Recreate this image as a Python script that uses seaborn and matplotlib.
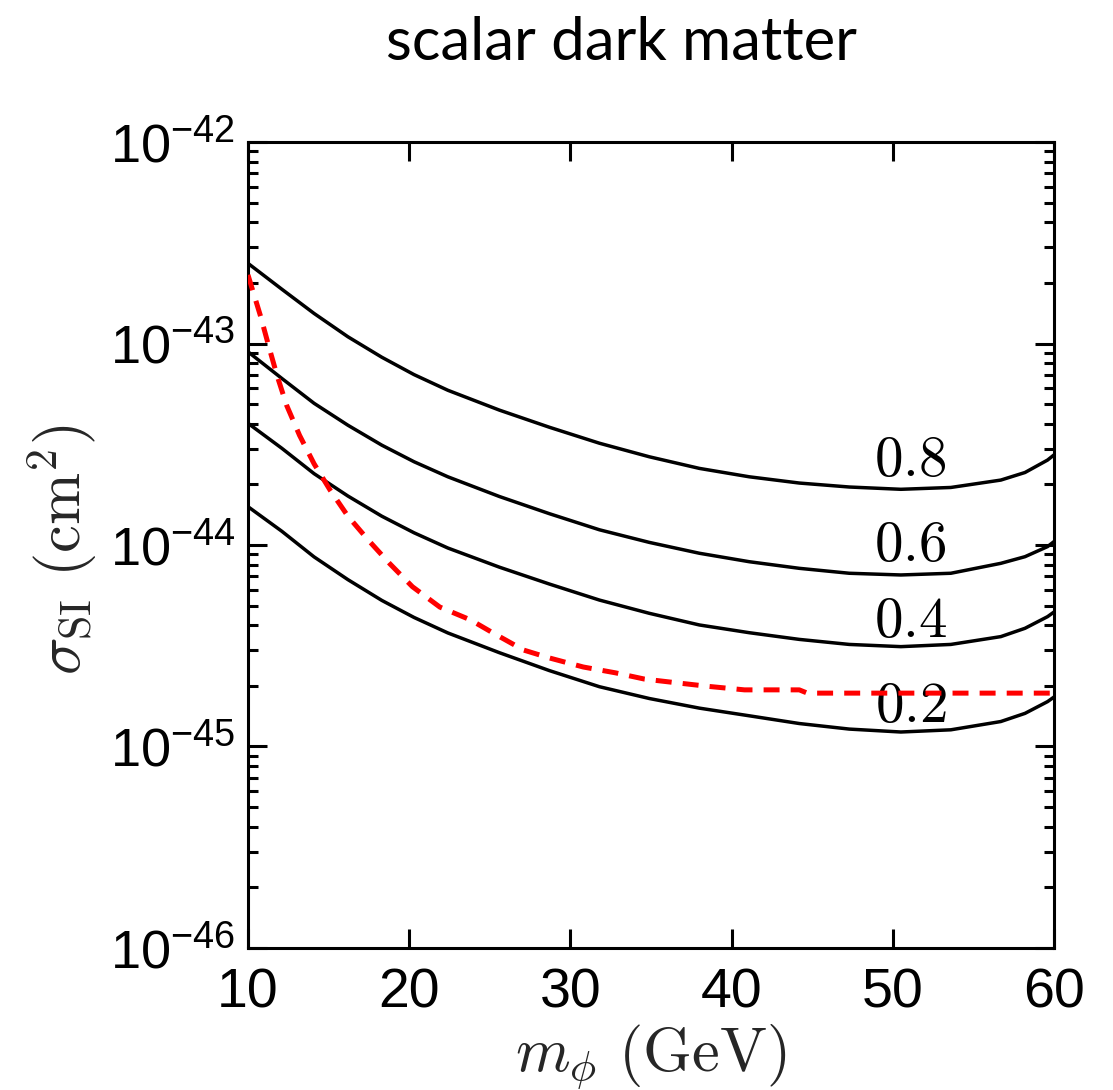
import numpy as np
import pandas as pd
import matplotlib
matplotlib.use("Agg")
import matplotlib.pyplot as plt
import seaborn as sns
from matplotlib.ticker import NullFormatter, NullLocator, FuncFormatter, FixedLocator

# Dark matter mass grid (GeV) for the contour curves
mass = [10.0, 12.1, 14.1, 16.2, 18.3, 20.3, 22.4, 25.6, 28.7, 31.8, 34.9,
        38.0, 41.1, 44.2, 47.3, 50.5, 53.6, 56.7, 58.2, 59.6, 60.0]

# Spin-independent cross sections (cm^2) along each contour
sigma_08 = [2.50e-43, 1.86e-43, 1.41e-43, 1.08e-43, 8.55e-44, 7.01e-44, 5.86e-44,
            4.67e-44, 3.84e-44, 3.20e-44, 2.74e-44, 2.40e-44, 2.18e-44, 2.03e-44,
            1.94e-44, 1.89e-44, 1.93e-44, 2.10e-44, 2.29e-44, 2.64e-44, 2.80e-44]
sigma_06 = [9.10e-44, 6.71e-44, 5.05e-44, 3.93e-44, 3.13e-44, 2.59e-44, 2.18e-44,
            1.74e-44, 1.43e-44, 1.19e-44, 1.03e-44, 9.10e-45, 8.26e-45, 7.66e-45,
            7.24e-45, 7.10e-45, 7.24e-45, 8.11e-45, 8.75e-45, 9.82e-45, 1.04e-44]
sigma_04 = [4.02e-44, 3.02e-44, 2.26e-44, 1.75e-44, 1.39e-44, 1.15e-44, 9.66e-45,
            7.76e-45, 6.40e-45, 5.33e-45, 4.58e-45, 4.01e-45, 3.67e-45, 3.40e-45,
            3.21e-45, 3.13e-45, 3.21e-45, 3.51e-45, 3.86e-45, 4.41e-45, 4.65e-45]
sigma_02 = [1.55e-44, 1.17e-44, 8.73e-45, 6.73e-45, 5.31e-45, 4.37e-45, 3.66e-45,
            2.92e-45, 2.38e-45, 1.98e-45, 1.73e-45, 1.55e-45, 1.42e-45, 1.30e-45,
            1.22e-45, 1.18e-45, 1.21e-45, 1.33e-45, 1.46e-45, 1.67e-45, 1.76e-45]
levels = ["0.8", "0.6", "0.4", "0.2"]

# Experimental exclusion limit (red dashed)
limit_mass = [10.0, 10.8, 11.3, 11.8, 12.4, 13.2, 14.1, 15.1, 16.2, 17.5, 18.8, 20.2, 21.9,
              23.8, 25.2, 27.1, 28.7, 30.8, 32.8, 34.6, 36.6, 38.5, 40.8, 44.2, 44.7, 60.0]
limit_sigma = [2.19e-43, 1.35e-43, 9.62e-44, 6.95e-44, 4.93e-44, 3.50e-44, 2.53e-44, 1.87e-44,
               1.39e-44, 1.05e-44, 8.07e-45, 6.21e-45, 4.92e-45, 4.25e-45, 3.66e-45, 3.01e-45,
               2.75e-45, 2.48e-45, 2.32e-45, 2.16e-45, 2.07e-45, 1.99e-45, 1.91e-45, 1.91e-45,
               1.84e-45, 1.84e-45]

# Contour label placement
label_mass = 51.1
label_sigma = [2.61e-44, 9.89e-45, 4.15e-45, 1.57e-45]

y_major = [1e-46, 1e-45, 1e-44, 1e-43, 1e-42]
x_major = [10, 20, 30, 40, 50, 60]

sns.set_theme(style="ticks")
plt.rcParams["font.family"] = ["Liberation Sans", "DejaVu Sans"]
plt.rcParams["mathtext.fontset"] = "cm"
plt.rcParams["lines.scale_dashes"] = False
plt.rcParams["axes.linewidth"] = 2.2
plt.rcParams["axes.edgecolor"] = "black"

contours = pd.DataFrame({
    "mass": mass * 4,
    "sigma": sigma_08 + sigma_06 + sigma_04 + sigma_02,
    "level": sum([[lv] * len(mass) for lv in levels], []),
})

fig = plt.figure(figsize=(11.13, 10.9), dpi=100)
ax = fig.add_axes([0.2228, 0.1303, 0.7242, 0.7394])

sns.lineplot(data=contours, x="mass", y="sigma", hue="level",
             palette={lv: "black" for lv in levels}, estimator=None,
             linewidth=2.5, legend=False, ax=ax)
for ln in ax.lines:
    ln.set_solid_joinstyle("round")
sns.lineplot(x=limit_mass, y=limit_sigma, color="red", linewidth=3.6,
             estimator=None, ax=ax)
ax.lines[-1].set_dashes([11.5, 8.0])
ax.lines[-1].set_zorder(4)

for lv, s in zip(levels, label_sigma):
    ax.text(label_mass, s, "$%s$" % lv, fontsize=41, ha="center", va="center",
            color="black", zorder=3)

ax.set_yscale("log")
ax.set_xlim(10, 60)
ax.set_ylim(1e-46, 1e-42)
ax.xaxis.set_major_locator(FixedLocator(x_major))
ax.xaxis.set_minor_locator(NullLocator())
ax.yaxis.set_major_locator(FixedLocator(y_major))
minor = [m * d for d in [1e-46, 1e-45, 1e-44, 1e-43] for m in range(2, 10)]
ax.yaxis.set_minor_locator(FixedLocator(minor))
ax.yaxis.set_minor_formatter(NullFormatter())
ax.yaxis.set_major_formatter(FuncFormatter(
    lambda v, p: r"$\mathregular{10^{%d}}$" % int(round(np.log10(v)))))

ax.tick_params(which="both", direction="in", top=True, right=True, width=2.2,
               color="black", labelcolor="black")
ax.tick_params(which="major", length=14, labelsize=40)
ax.tick_params(axis="y", which="major", labelsize=39, pad=9)
ax.tick_params(axis="x", which="major", pad=14)
ax.tick_params(which="minor", length=7)

ax.set_xlabel(r"$m_\phi\ (\mathrm{GeV})$", fontsize=45)
ax.set_ylabel(r"$\sigma_{\mathrm{SI}}\ (\mathrm{cm}^2)$", fontsize=45)
ax.xaxis.set_label_coords(0.5, -0.092)
ax.yaxis.set_label_coords(-0.183, 0.494)

fig.text(621 / 1113, 1 - 60 / 1090, "scalar dark matter", ha="center", va="baseline",
         fontsize=43, family=["Lato", "DejaVu Sans"], color="black")

fig.savefig("out.png", dpi=100, facecolor="white")
